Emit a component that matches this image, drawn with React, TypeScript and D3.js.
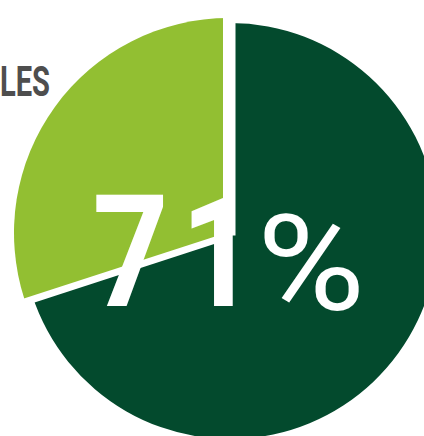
import React from "react";
import * as d3 from "d3";

// Data
const categories = ["Majority", "Remainder"];
const values = [70, 30]; // slice sizes as drawn (dark clockwise from 12 o'clock, light the rest)
const colors = ["#034a2d", "#92bf32"];
const bigNumber = "71";
const percentSign = "%";
const sideLabel = "LES";

const W = 424;
const H = 436;

// per-slice geometry (the light slice is drawn slightly larger)
const sliceCenters: [number, number][] = [
  [230, 231],
  [229, 233],
];
const sliceRadii = [208, 215];

export default function App() {
  const pie = d3
    .pie<number>()
    .sort(null)
    .startAngle(0)
    .endAngle(2 * Math.PI);
  const arcs = pie(values);
  const arcGen = d3.arc<d3.PieArcDatum<number>>().innerRadius(0);

  // separators: white bands along each slice boundary
  const sepOrigin: [number, number] = [229.25, 235.5];
  const sepWidths = [12.5, 7];
  const L = 320;

  const font = "Roboto, 'Liberation Sans', sans-serif";

  return (
    <svg
      width={W}
      height={H}
      viewBox={`0 0 ${W} ${H}`}
      style={{ position: "absolute", left: 0, top: 0, background: "#ffffff" }}
    >
      {arcs.map((a, i) => (
        <path
          key={categories[i]}
          d={arcGen.outerRadius(sliceRadii[i])(a) || ""}
          transform={`translate(${sliceCenters[i][0]},${sliceCenters[i][1]})`}
          fill={colors[i]}
        />
      ))}
      {arcs.map((a, i) => {
        const ang = a.startAngle;
        const x2 = sepOrigin[0] + L * Math.sin(ang);
        const y2 = sepOrigin[1] - L * Math.cos(ang);
        return (
          <line
            key={"sep" + i}
            x1={sepOrigin[0]}
            y1={sepOrigin[1]}
            x2={x2}
            y2={y2}
            stroke="#ffffff"
            strokeWidth={sepWidths[i]}
          />
        );
      })}
      <text
        x={0}
        y={96}
        fontFamily={font}
        fontWeight={700}
        fontSize={42}
        fill="#4e4e4e"
        textLength={50}
        lengthAdjust="spacingAndGlyphs"
      >
        {sideLabel}
      </text>
      <text
        transform="translate(92.4,306) scale(0.85,1)"
        fontFamily={font}
        fontWeight={700}
        fontSize={156}
        fill="#ffffff"
      >
        <tspan>{bigNumber[0]}</tspan>
        <tspan dx={14.3}>{bigNumber[1]}</tspan>
      </text>
      <text
        transform="translate(257,310) scale(1.1,1)"
        fontFamily={font}
        fontWeight={400}
        fontSize={134}
        fill="#ffffff"
      >
        {percentSign}
      </text>
    </svg>
  );
}
